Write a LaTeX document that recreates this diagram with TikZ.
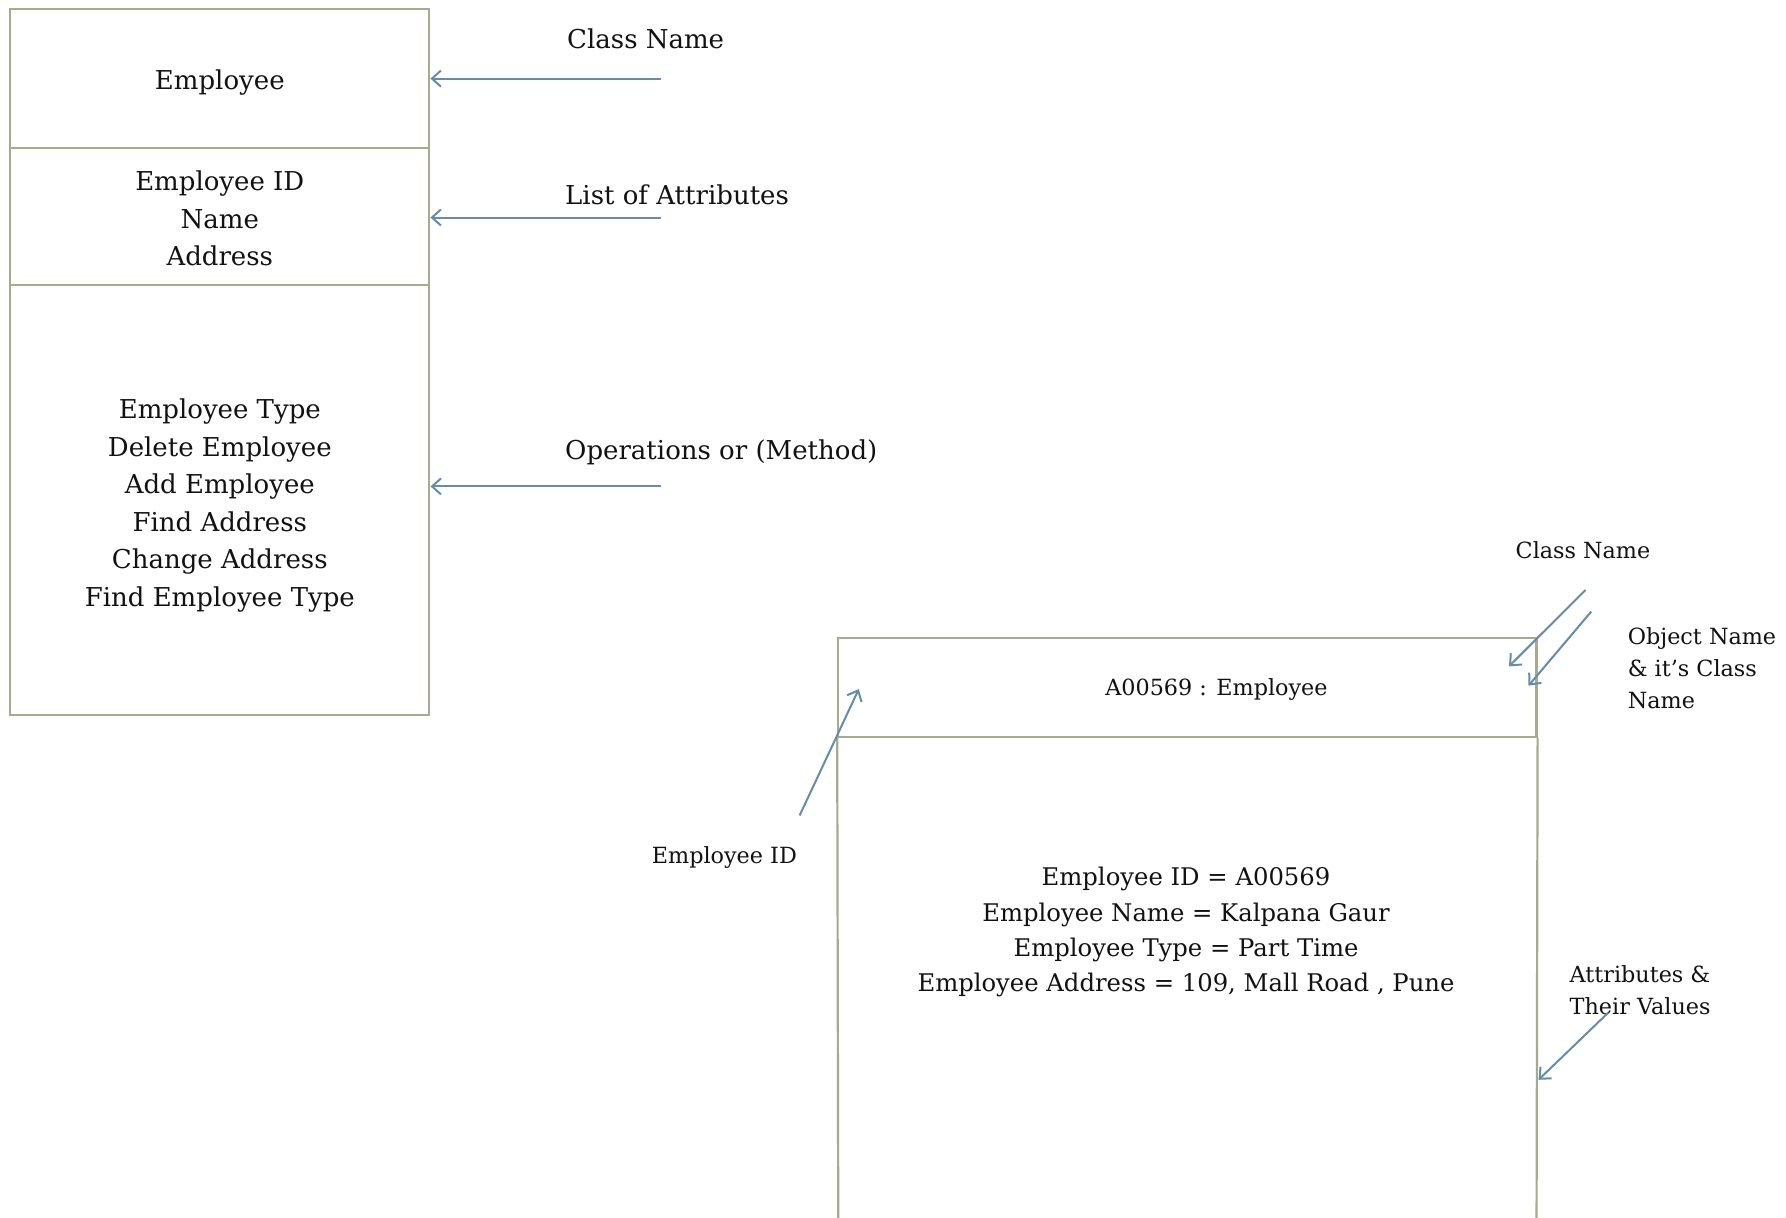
\documentclass[tikz,border=0pt]{standalone}
\usepackage{fontspec}
\setmainfont{DejaVu Serif}
\usetikzlibrary{arrows.meta}
\definecolor{boxline}{RGB}{166,170,142}
\definecolor{arrowline}{RGB}{104,140,168}
\definecolor{ink}{RGB}{18,18,18}
\tikzset{
  compartment/.style={draw=boxline, line width=2.2pt, rectangle, inner sep=0pt, minimum width=419pt},
  bigtext/.style={text=ink, align=center, inner sep=0pt, font=\fontsize{26}{37.6}\selectfont},
  midtext/.style={text=ink, align=center, inner sep=0pt, font=\fontsize{24.3}{35.3}\selectfont},
  labeltext/.style={text=ink, align=left, inner sep=0pt, font=\fontsize{26}{37.6}\selectfont},
  smalltext/.style={text=ink, align=left, inner sep=0pt, font=\fontsize{22.3}{31.9}\selectfont},
  pointer/.style={draw=arrowline, line width=2pt, -{Straight Barb[length=9pt,width=16pt,line width=2pt]}},
}
\begin{document}
\begin{tikzpicture}[x=1pt, y=-1pt]
  \fill[white] (0,0) rectangle (1786,1218);
  \useasboundingbox (0,0) rectangle (1786,1218);
  \clip (0,0) rectangle (1786,1218);

  % ---- class box: Employee ----
  \node[compartment, minimum height=139pt] (clsname) at (219.8,78.6) {};
  \node[compartment, minimum height=136.7pt] (clsattr) at (219.8,216.5) {};
  \node[compartment, minimum height=430.5pt] (clsops) at (219.8,500) {};
  \node[bigtext] (clsnametext) at (219.8,83) {Employee};
  \node[bigtext] (clsattrtext) at (219.8,218.7) {Employee ID\\Name\\Address};
  \node[bigtext] (clsopstext) at (219.8,505.5) {Employee Type\\Delete Employee\\Add Employee\\Find Address\\Change Address\\Find Employee Type};

  % ---- labels for the class box ----
  \node[labeltext, anchor=west] (lblclass) at (567,38.7) {Class Name};
  \node[labeltext, anchor=west] (lblattr) at (565,194.8) {List of Attributes};
  \node[labeltext, anchor=west] (lblops) at (565,452) {Operations or (Method)};
  \coordinate (t1) at (660.6,78.6);
  \coordinate (t2) at (660.6,217.5);
  \coordinate (t3) at (660.6,486.4);
  \coordinate (h3) at (430.5,486.4);
  \draw[pointer] (t1) -- (clsname.east);
  \draw[pointer] (t2) -- (t2 -| clsattr.east);
  \draw[pointer] (t3) -- (h3);

  % ---- object box: A00569 : Employee ----
  \node[draw=boxline, line width=2.2pt, rectangle, inner sep=0pt,
        minimum width=698.2pt, minimum height=99.2pt] (objhead) at (1187.4,687.4) {};
  \coordinate (objbl) at (838.3,1240);
  \coordinate (objbr) at (1536.5,1240);
  \draw[boxline, line width=2.2pt] (objbl) -- (objhead.south west);
  \draw[boxline, line width=2.2pt] (objbr) -- (objhead.south east);
  \node[smalltext] (objname) at (1216.5,689) {A00569 : Employee};
  \node[midtext] (objattr) at (1186,932.4) {Employee ID = A00569\\Employee Name = Kalpana Gaur\\Employee Type = Part Time\\Employee Address = 109, Mall Road , Pune};

  % ---- labels for the object box ----
  \node[smalltext, anchor=center] (lblclass2) at (1583,550) {Class Name};
  \node[smalltext, anchor=west] (lblobj) at (1627.6,668.5) {Object Name\\\& it’s Class\\Name};
  \node[smalltext, anchor=center] (lblid) at (724.4,857) {Employee ID};
  \node[smalltext, anchor=west] (lblvals) at (1569.5,990) {Attributes \&\\Their Values};
  \coordinate (c1a) at (1585.5,590);
  \coordinate (c1b) at (1509,666.3);
  \coordinate (c2a) at (1591.2,611.6);
  \coordinate (c2b) at (1528.5,685.7);
  \coordinate (c3a) at (799.6,815.5);
  \coordinate (c3b) at (858.8,689.1);
  \coordinate (c4a) at (1608.3,1012.6);
  \coordinate (c4b) at (1538.5,1079.8);
  \draw[pointer] (c1a) -- (c1b);
  \draw[pointer] (c2a) -- (c2b);
  \draw[pointer] (c3a) -- (c3b);
  \draw[pointer] (c4a) -- (c4b);
\end{tikzpicture}
\end{document}
